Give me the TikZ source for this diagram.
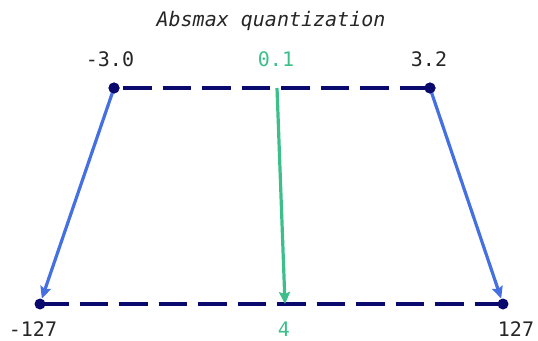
\documentclass[tikz,border=0pt]{standalone}
\usepackage{fontspec}
\setmonofont{DejaVu Sans Mono}
\usetikzlibrary{arrows.meta}
\definecolor{navy}{HTML}{0A0A6E}
\definecolor{rblue}{HTML}{4470E2}
\definecolor{mgreen}{HTML}{3CBF8A}
\definecolor{txt}{HTML}{262626}
\begin{document}
\begin{tikzpicture}[x=1pt,y=-1pt,
  dot/.style={circle,fill=navy,inner sep=0pt,minimum size=11pt},
  axisline/.style={navy,line width=4pt,dash pattern=on 28.5pt off 11pt},
  mapblue/.style={rblue,line width=3.2pt,-{Stealth[length=12pt,width=11pt,inset=2pt]}},
  mapgreen/.style={mgreen,line width=3.2pt,-{Stealth[length=12pt,width=11pt,inset=2pt]}},
  lab/.style={font=\fontsize{20}{24}\selectfont\ttfamily,text=txt,inner sep=0pt},
  glab/.style={lab,text=mgreen}]
\useasboundingbox (0,0) rectangle (538,340);
% points
\coordinate (tl) at (114,88);
\coordinate (tr) at (430,88);
\coordinate (bl) at (40,304);
\coordinate (br) at (503,304);
\coordinate (g0) at (277,88);
\coordinate (g1) at (285,304);
% axes
\draw[axisline,dash phase=30.5pt] (tl) -- (tr);
\draw[axisline] (bl) -- (br);
% dots
\node[dot] (dtl) at (tl) {};
\node[dot] (dtr) at (tr) {};
\node[dot] (dbl) at (bl) {};
\node[dot] (dbr) at (br) {};
% arrows
\draw[mapblue] (dtl.center) -- (dbl);
\draw[mapblue] (dtr.center) -- (dbr);
\draw[mapgreen] (g0) -- (g1);
\node[dot] at (tl) {};
\node[dot] at (tr) {};
% labels
\node[lab,anchor=base,font=\fontsize{20}{24}\selectfont\ttfamily\itshape] (title) at (271,27) {Absmax quantization};
\node[lab] (ltl) at (110,59) {-3.0};
\node[glab] (lg0) at (276,59) {0.1};
\node[lab] (ltr) at (429,59) {3.2};
\node[lab] (lbl) at (33,329) {-127};
\node[glab] (lg1) at (284,329) {4};
\node[lab] (lbr) at (516,329) {127};
\end{tikzpicture}
\end{document}
